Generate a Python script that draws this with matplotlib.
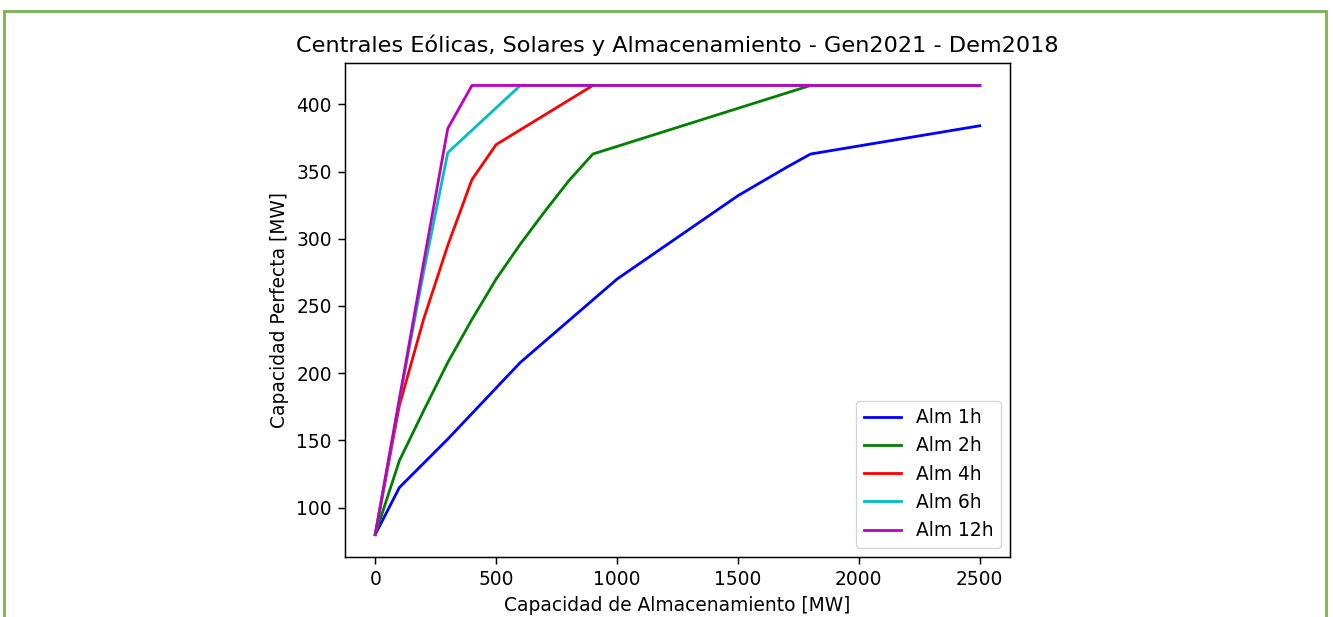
import matplotlib.pyplot as plt
from matplotlib.patches import Rectangle

# Alm 1h .. 12h curves (storage MW -> perfect capacity MW)
x_1h = [0, 100, 300, 600, 1000, 1500, 1700, 1800, 2500]
y_1h = [80, 115, 151, 208, 270, 332, 353, 363, 384]

x_2h = [0, 100, 200, 300, 400, 500, 600, 700, 800, 900, 1800, 2500]
y_2h = [80, 135, 172, 208, 240, 270, 296, 320, 343, 363, 414, 414]

x_4h = [0, 100, 200, 300, 400, 500, 900, 2500]
y_4h = [80, 176, 240, 295, 344, 370, 414, 414]

x_6h = [0, 100, 200, 300, 600, 2500]
y_6h = [80, 180, 275, 364, 414, 414]

x_12h = [0, 100, 200, 300, 400, 2500]
y_12h = [80, 181, 282, 382, 414, 414]

labels = ['Alm 1h', 'Alm 2h', 'Alm 4h', 'Alm 6h', 'Alm 12h']
colors = ['b', 'g', 'r', 'c', 'm']

s = 1.34  # scale vs default 640x480 figure
plt.rcParams.update({
    'font.size': 10 * s,
    'lines.linewidth': 1.5 * s,
    'axes.linewidth': 0.8 * s,
    'xtick.major.size': 3.5 * s,
    'ytick.major.size': 3.5 * s,
    'xtick.major.width': 0.8 * s,
    'ytick.major.width': 0.8 * s,
    'xtick.major.pad': 3.5 * s,
    'ytick.major.pad': 3.5 * s,
})

fig = plt.figure(figsize=(13.33, 6.17), dpi=100)
ax = fig.add_axes([345 / 1333, 1 - 557 / 617, 665 / 1333, 494 / 617])

series = [(x_1h, y_1h), (x_2h, y_2h), (x_4h, y_4h), (x_6h, y_6h), (x_12h, y_12h)]
for (xs, ys), lab, c in zip(series, labels, colors):
    ax.plot(xs, ys, color=c, label=lab)

ax.set_title('Centrales Eólicas, Solares y Almacenamiento - Gen2021 - Dem2018', pad=6 * s)
ax.set_xlabel('Capacidad de Almacenamiento [MW]', labelpad=4 * s)
ax.set_ylabel('Capacidad Perfecta [MW]', labelpad=4 * s)
ax.legend(loc='lower right')

# green frame around the picture
fig.patches.append(Rectangle((4 / 1333, -0.05), 1322 / 1333, 1 - 11 / 617 + 0.05,
                             transform=fig.transFigure, fill=False,
                             edgecolor='#77b255', linewidth=2))

fig.savefig('out.png', dpi=100)
